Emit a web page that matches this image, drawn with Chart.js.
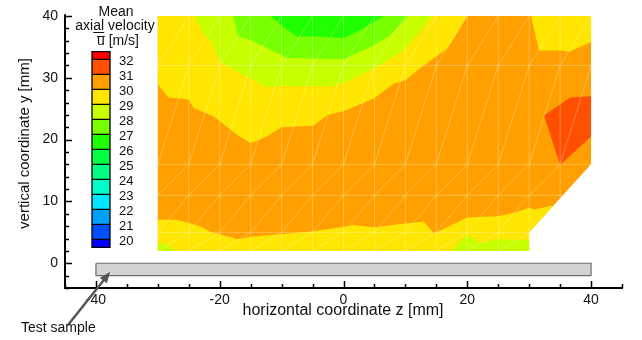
<!DOCTYPE html>
<html lang="en">
<head>
  <meta charset="UTF-8">
  <title>Mean axial velocity</title>
  <style>
    html, body { margin: 0; padding: 0; background: #fff; }
  </style>
</head>
<body>
  <canvas id="chart" width="642" height="340"></canvas>

  <script src="https://cdn.jsdelivr.net/npm/chart.js"></script>
  <script>
    // contour levels [m/s]; band i sits below levels[i], the last band above 32
    const levels = [20, 21, 22, 23, 24, 25, 26, 27, 28, 29, 30, 31, 32];
    const bandColors = ['#0000ff', '#0050ff', '#00a0ff', '#00e6ff', '#00ffc8', '#00ff80', '#00ff40',
      '#20ff00', '#78ff00', '#c8ff00', '#ffe600', '#ffa000', '#ff5000', '#ff0000'];

    const xTicks = [-40, -20, 0, 20, 40];
    const yTicks = [0, 10, 20, 30, 40];

    // outline of the measured area (30..31 m/s everywhere it is not covered below)
    const domain = [[-30, 2], [30, 2], [30, 5], [40, 16], [40, 40], [-30, 40]];

    // regions below 30 m/s
    const below30Top = [[-30, 40], [-30, 28.9], [-28.3, 26.8], [-25, 26.5], [-24.2, 25.1], [-21, 23.8],
      [-17.2, 20.8], [-15, 19.4], [-12.4, 20.5], [-10, 22.0], [-4.8, 22.3], [-2.6, 24.0], [0, 24.6],
      [5, 26.7], [8, 29.0], [10, 29.6], [12.6, 31.7], [16.8, 34.8], [20, 40]];
    const below30Right = [[30.3, 40], [31.6, 34.4], [35, 34.4], [36.5, 34.2], [40, 35.8], [40, 40]];
    const below30Bottom = [[-30, 2], [-30, 7.1], [-26.7, 7.0], [-25, 6.5], [-23.2, 6.0], [-21.5, 5.1],
      [-17, 3.9], [-15, 4.3], [-10.2, 4.7], [-4.8, 5.2], [0, 5.9], [1.7, 6.2], [5, 5.8], [9.5, 6.4],
      [13, 6.7], [14.6, 4.8], [20, 7.4], [24.9, 7.6], [27.8, 8.2], [30, 9.0], [30.8, 8.7], [34, 9.4],
      [30, 5], [30, 2]];

    // region above 31 m/s
    const above31 = [[32.4, 23.9], [36.6, 26.8], [40, 27], [40, 20.5], [35, 15.9]];

    // regions below 29 m/s
    const below29Top = [[-24.2, 40], [-22.6, 37.2], [-21.2, 35.6], [-19.9, 32.5], [-15.3, 30.0],
      [-12.4, 28.5], [-9.5, 28.7], [-2.1, 28.6], [0.3, 29.3], [5, 31.6], [9.5, 34.2], [12, 37], [14.3, 40]];
    const below29BottomLeft = [[-30, 2], [-30, 3.3], [-28.5, 3.0], [-27, 2]];
    const below29BottomRight = [[17.3, 2], [20, 4.6], [22.1, 3.3], [24.9, 3.9], [30, 3.7], [30, 2]];

    // regions below 28 and 27 m/s
    const below28 = [[-17.8, 40], [-17.1, 36.7], [-15, 36.1], [-9.1, 33.2], [0, 33.0], [5, 35.3],
      [7.3, 36.7], [10.5, 40]];
    const below27 = [[-11.8, 40], [-9.5, 38], [-7.5, 36.7], [-3.7, 36.7], [0, 36.4], [3.3, 38], [6.5, 40]];

    // measuring grid (faint lines over the contour)
    const meshX = [-30, -25, -20, -15, -10, -5, 0, 5, 10, 15, 20, 25, 30, 35, 40];
    const meshY = [2, 5, 11, 16, 32, 40];

    // test sample plate
    const sample = [[-40, 0], [40, 0], [40, -2], [-40, -2]];

    // lower edge of the measured area at a given z
    function lowerEdge(z) {
      return z <= 30 ? 2 : 5 + (z - 30) * 1.1;
    }

    function toXY(points) {
      const pts = points.map(p => ({ x: p[0], y: p[1] }));
      pts.push({ x: points[0][0], y: points[0][1] });
      return pts;
    }

    function region(points, band, order) {
      return {
        data: toXY(points),
        backgroundColor: bandColors[band],
        borderWidth: 0,
        pointRadius: 0,
        fill: 'shape',
        tension: 0,
        order: order
      };
    }

    // mesh lines, separated by gaps
    const meshPts = [];
    function seg(x1, y1, x2, y2) {
      meshPts.push({ x: x1, y: y1 }, { x: x2, y: y2 }, { x: x2, y: null });
    }
    meshY.slice(1, -1).forEach(yy => {
      const xEnd = yy >= 16 ? 40 : Math.min(40, 30 + (yy - 5) / 1.1);
      seg(-30, yy, xEnd, yy);
    });
    meshX.slice(1, -1).forEach(xx => seg(xx, lowerEdge(xx), xx, 40));
    for (let i = 0; i < meshX.length - 1; i++) {
      for (let j = 0; j < meshY.length - 1; j++) {
        if (meshY[j] >= lowerEdge(meshX[i + 1]) - 0.01) {
          seg(meshX[i], meshY[j], meshX[i + 1], meshY[j + 1]);
        }
      }
    }

    const font = '"Liberation Sans", Arial, sans-serif';
    Chart.defaults.font.family = font;
    Chart.defaults.color = '#111';

    // inward tick marks, axis titles, colour bar and the sample note
    const decorations = {
      id: 'decorations',
      afterDraw(chart) {
        const { ctx, chartArea, scales: { x, y } } = chart;
        ctx.save();

        // ticks
        ctx.strokeStyle = '#000';
        ctx.lineWidth = 1.5;
        ctx.beginPath();
        for (let v = -45; v <= 45; v += 5) {
          const px = Math.round(x.getPixelForValue(v)) + 0.5;
          const len = v % 20 === 0 ? 7 : 4;
          ctx.moveTo(px, chartArea.bottom);
          ctx.lineTo(px, chartArea.bottom - len);
        }
        for (let v = -4; v <= 40; v += 2) {
          const py = Math.round(y.getPixelForValue(v)) + 0.5;
          const len = v % 10 === 0 ? 7 : 4;
          ctx.moveTo(chartArea.left, py);
          ctx.lineTo(chartArea.left + len, py);
        }
        // y axis runs a little past 40
        ctx.moveTo(chartArea.left, chartArea.top);
        ctx.lineTo(chartArea.left, chartArea.top - 2);
        ctx.stroke();

        // axis titles
        ctx.fillStyle = '#111';
        ctx.textAlign = 'center';
        ctx.textBaseline = 'middle';
        ctx.font = '16px ' + font;
        ctx.fillText('horizontal coordinate z [mm]', 343, 311);
        ctx.save();
        ctx.translate(25, 143.5);
        ctx.rotate(-Math.PI / 2);
        ctx.font = '15px ' + font;
        ctx.fillText('vertical coordinate y [mm]', 0, 0);
        ctx.restore();

        // colour bar
        const cbX = 92, cbW = 18, top32 = 59.3, step = 15;
        const lineY = lv => top32 + (32 - lv) * step;
        const n = levels.length;
        for (let i = 0; i <= n; i++) {
          const yTop = i === n ? lineY(32) - 7.6 : lineY(levels[i]);
          const yBot = i === 0 ? lineY(20) + 8 : lineY(levels[i - 1]);
          ctx.fillStyle = bandColors[i];
          ctx.fillRect(cbX, yTop, cbW, yBot - yTop);
        }
        ctx.strokeStyle = '#000';
        ctx.lineWidth = 1.3;
        ctx.beginPath();
        levels.forEach(lv => {
          ctx.moveTo(cbX, lineY(lv));
          ctx.lineTo(cbX + cbW, lineY(lv));
        });
        ctx.rect(cbX, lineY(32) - 7.6, cbW, lineY(20) + 8 - (lineY(32) - 7.6));
        ctx.stroke();

        ctx.fillStyle = '#111';
        ctx.font = '13px ' + font;
        ctx.textAlign = 'left';
        levels.forEach(lv => ctx.fillText(String(lv), 119, lineY(lv) + 2));

        ctx.textAlign = 'center';
        ctx.font = '14px ' + font;
        ctx.fillText('Mean', 116, 12.5);
        ctx.fillText('axial velocity', 115, 26);
        ctx.fillText('u [m/s]', 118, 41);
        // underline under "al" and bar over "u"
        const wAxial = ctx.measureText('axial velocity').width;
        const xa = 115 - wAxial / 2 + ctx.measureText('axi').width;
        const wal = ctx.measureText('al').width;
        const wu = ctx.measureText('u [m/s]').width;
        const xu = 118 - wu / 2;
        ctx.strokeStyle = '#111';
        ctx.lineWidth = 1;
        ctx.beginPath();
        ctx.moveTo(xa, 32.5);
        ctx.lineTo(xa + wal, 32.5);
        ctx.moveTo(xu, 36.5);
        ctx.lineTo(xu + ctx.measureText('u').width, 36.5);
        ctx.stroke();

        // "Test sample" pointer
        const tipX = x.getPixelForValue(-37.7);
        const tipY = y.getPixelForValue(-1.4);
        const tailX = 68, tailY = 325;
        const ang = Math.atan2(tipY - tailY, tipX - tailX);
        ctx.strokeStyle = '#555';
        ctx.fillStyle = '#555';
        ctx.lineWidth = 2.5;
        ctx.beginPath();
        ctx.moveTo(tailX, tailY);
        ctx.lineTo(tipX - 8 * Math.cos(ang), tipY - 8 * Math.sin(ang));
        ctx.stroke();
        ctx.beginPath();
        ctx.moveTo(tipX, tipY);
        ctx.lineTo(tipX - 11 * Math.cos(ang) + 4.5 * Math.sin(ang), tipY - 11 * Math.sin(ang) - 4.5 * Math.cos(ang));
        ctx.lineTo(tipX - 11 * Math.cos(ang) - 4.5 * Math.sin(ang), tipY - 11 * Math.sin(ang) + 4.5 * Math.cos(ang));
        ctx.closePath();
        ctx.fill();

        ctx.fillStyle = '#111';
        ctx.textAlign = 'left';
        ctx.font = '14px ' + font;
        ctx.fillText('Test sample', 21, 328);

        ctx.restore();
      }
    };

    const datasets = [
      region(domain, 11, 20),
      region(below30Top, 10, 19),
      region(below30Right, 10, 18),
      region(below30Bottom, 10, 17),
      region(above31, 12, 16),
      region(below29Top, 9, 15),
      region(below29BottomLeft, 9, 14),
      region(below29BottomRight, 9, 13),
      region(below28, 8, 12),
      region(below27, 7, 11),
      {
        data: meshPts,
        borderColor: 'rgba(255, 255, 255, 0.28)',
        borderWidth: 1,
        pointRadius: 0,
        fill: false,
        spanGaps: false,
        order: 5
      },
      {
        data: toXY(sample),
        backgroundColor: '#d3d3d3',
        borderColor: '#6e6e6e',
        borderWidth: 1.2,
        pointRadius: 0,
        fill: 'shape',
        order: 4
      }
    ];

    new Chart(document.getElementById('chart'), {
      type: 'line',
      data: { datasets },
      options: {
        responsive: false,
        animation: false,
        events: [],
        layout: { padding: { left: 0, top: 16, right: 20, bottom: 0 } },
        plugins: { legend: { display: false }, tooltip: { enabled: false } },
        scales: {
          x: {
            type: 'linear',
            min: -45,
            max: 45,
            afterBuildTicks: s => { s.ticks = xTicks.map(v => ({ value: v })); },
            afterFit: s => { s.height = 52; },
            grid: { display: false, drawTicks: false },
            border: { display: true, color: '#000', width: 2 },
            ticks: { padding: 4, font: { size: 14 }, color: '#111', maxRotation: 0 }
          },
          y: {
            type: 'linear',
            min: -4,
            max: 40,
            afterBuildTicks: s => { s.ticks = yTicks.map(v => ({ value: v })); },
            afterFit: s => { s.width = 65; },
            grid: { display: false, drawTicks: false },
            border: { display: true, color: '#000', width: 2 },
            ticks: { padding: 7, font: { size: 14 }, color: '#111' }
          }
        }
      },
      plugins: [decorations]
    });
  </script>
</body>
</html>
